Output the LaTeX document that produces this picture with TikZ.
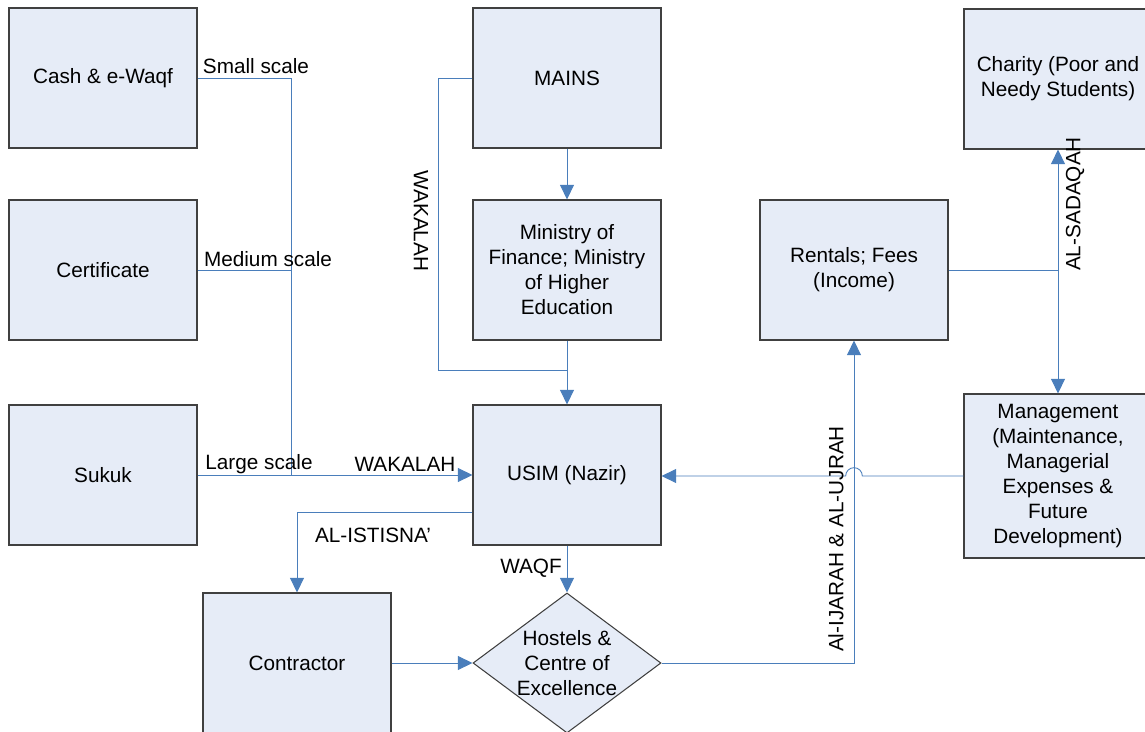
\documentclass[tikz,border=0pt]{standalone}
\usepackage{fontspec}
\setmainfont{Liberation Sans}
\usetikzlibrary{positioning,arrows.meta,shapes.geometric}
\definecolor{boxfill}{HTML}{E6ECF7}
\definecolor{linkblue}{HTML}{4A7EBB}
\tikzset{
BX/.style={draw=black!75, fill=boxfill, line width=0.9pt,
    minimum width=5.64cm, minimum height=4.2cm, inner sep=0pt,
    align=center, font=\fontsize{17.7}{21.3}\selectfont},
DM/.style={BX, diamond},
LB/.style={inner sep=0pt, align=center, font=\fontsize{17.7}{21.3}\selectfont},
LN/.style={draw=linkblue, line width=0.75pt},
AR/.style={LN, ->, fill=none}
}

\begin{document}
\begin{tikzpicture}[x=0.03cm,y=-0.03cm,>={Triangle[length=0.44cm,width=0.42cm,fill=linkblue]}]
\useasboundingbox (0,0) rectangle (1145,732);
\clip (0,0) rectangle (1145,732);

% sources
\node[BX] (cash) at (103,78) {Cash \& e-Waqf};
\node[BX] (cert) at (103,270) {Certificate};
\node[BX] (sukuk) at (103,475) {Sukuk};

% middle column
\node[BX] (mains) at (567,78) {MAINS};
\node[BX] (minis) at (567,270) {Ministry of\\Finance; Ministry\\of Higher\\Education};
\node[BX] (usim) at (567,475) {USIM (Nazir)};
\node[BX] (contr) at (297,663) {Contractor};
\node[DM, label={[LB]center:Hostels \&\\Centre of\\Excellence}] (hostel) at (567,663) {};

% right column
\node[BX] (rent) at (854,270) {Rentals; Fees\\(Income)};
\node[BX] (charity) at (1058,79) {Charity (Poor and\\Needy Students)};
\node[BX, minimum height=4.92cm] (mgmt) at (1058,476) {Management\\(Maintenance,\\Managerial\\Expenses \&\\Future\\Development)};

% connectors
\coordinate (bus) at (291,475);
\draw[LN] (cash.east) -| (bus);
\draw[LN] (cert.east) -- (cert.east -| bus);
\draw[AR] (sukuk.east) -- (usim.west);

\coordinate (wk) at (438,370);
\draw[LN] (mains.west) -| (wk) -- (wk -| usim.north);
\draw[AR] (mains.south) -- (minis.north);
\draw[AR] (minis.south) -- (usim.north);

\draw[AR] ([yshift=-1.11cm]usim.west) -| (contr.north);
\draw[AR] (usim.south) -- (hostel.north);
\draw[AR] (contr.east) -- (hostel.west);
\draw[AR] (hostel.east) -| (rent.south);

\coordinate (hop) at (rent.south |- mgmt.west);
\draw[AR] (mgmt.west) -- ([xshift=0.25cm]hop)
    arc[start angle=0, end angle=180, radius=0.25cm] -- (mgmt.west -| usim.east);
\draw[LN] (rent.east) -- (rent.east -| mgmt.north);
\draw[AR,<->] (charity.south) -- (mgmt.north);

% labels
\node[LB] (lsmall) at (256,66) {Small scale};
\node[LB] (lmedium) at (268,259) {Medium scale};
\node[LB] (llarge) at (259,464) {Large scale};
\node[LB] (lwak) at (405,464) {WAKALAH};
\node[LB, rotate=-90] (lwakv) at (421,221) {WAKALAH};
\node[LB] (listis) at (373,535) {AL-ISTISNA’};
\node[LB] (lwaqf) at (531,568) {WAQF};
\node[LB, rotate=90] (lijarah) at (836,539) {Al-IJARAH \& AL-UJRAH};
\node[LB, rotate=90] (lsadaqah) at (1075,204) {AL-SADAQAH};
\end{tikzpicture}
\end{document}
